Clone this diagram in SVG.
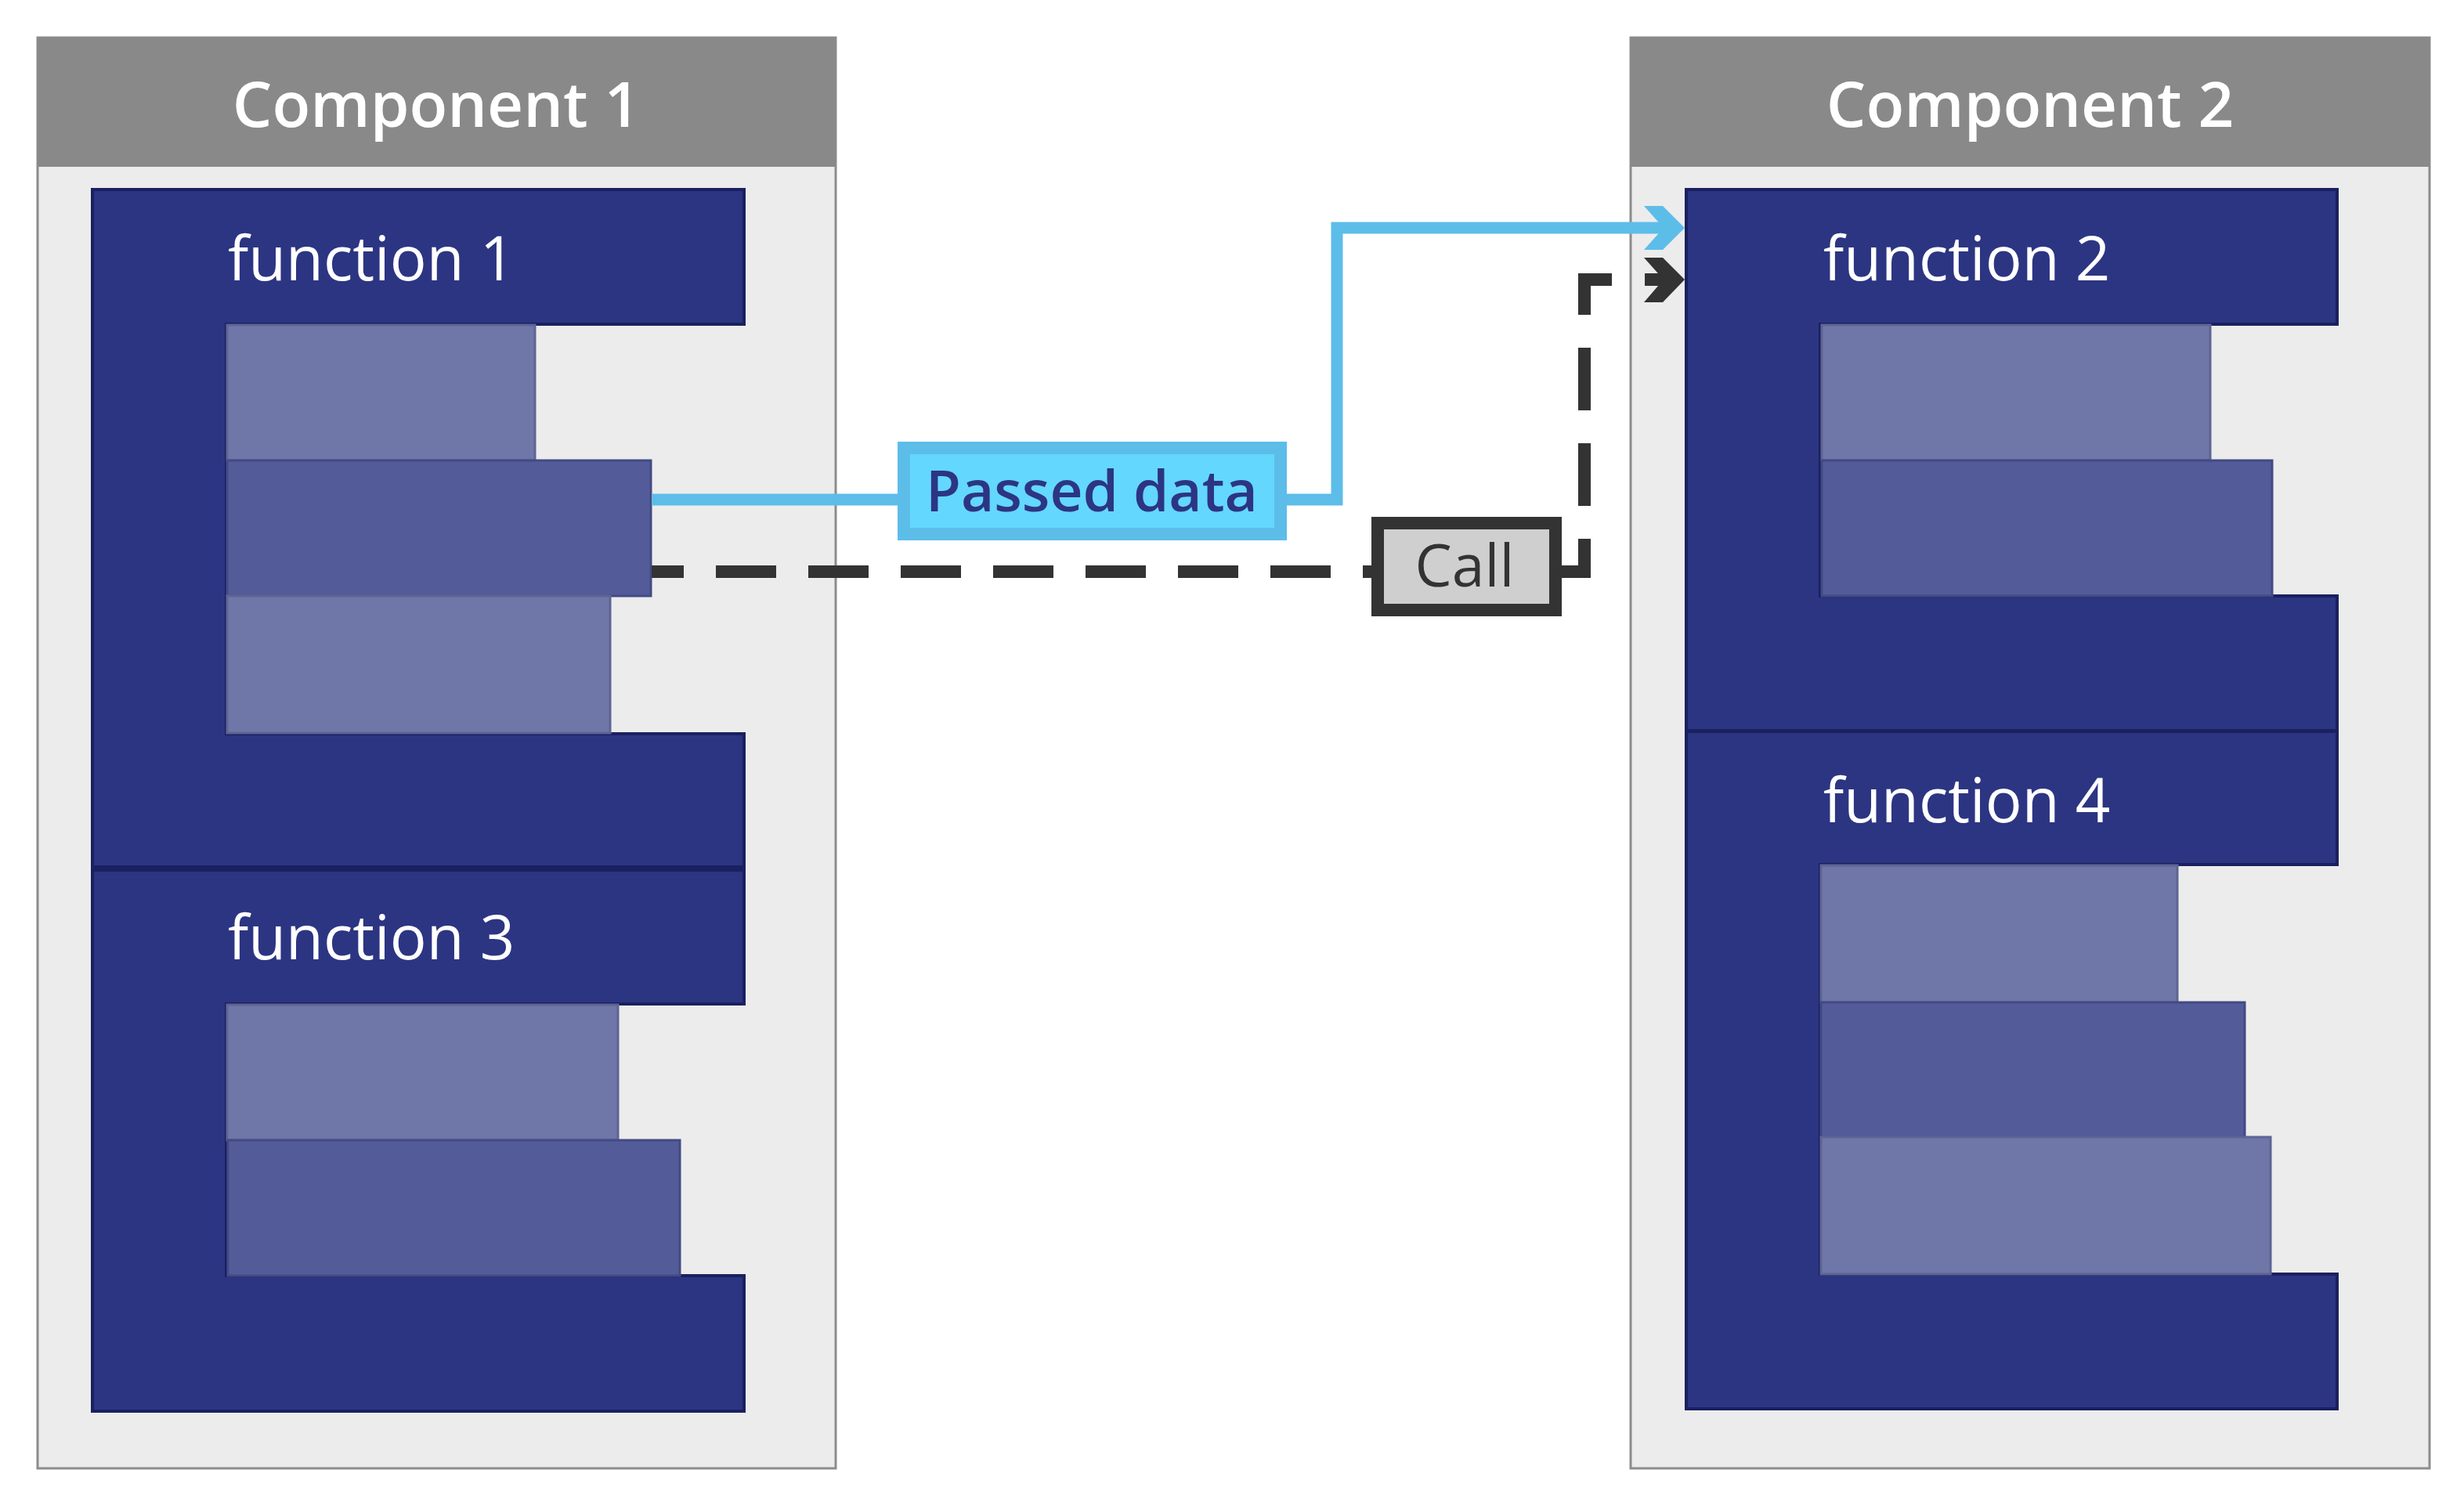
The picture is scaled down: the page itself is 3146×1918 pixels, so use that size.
<svg xmlns="http://www.w3.org/2000/svg" width="3146" height="1918" viewBox="0 0 3146 1918">
<style>
.comp{fill:#ececec;stroke:#8c8c8c;stroke-width:3}
.hdr{fill:#898989}
.htxt{font-family:"Open Sans","Liberation Sans",sans-serif;font-size:80px;font-weight:600;fill:#ffffff;text-anchor:middle}
.fn{fill:#2c3582;stroke:#1a2060;stroke-width:4}
.ftxt{font-family:"Open Sans","Liberation Sans",sans-serif;font-size:78px;fill:#ffffff}
.lt{fill:#6f76a8;stroke:#5e6594;stroke-width:3}
.md{fill:#535c99;stroke:#434a84;stroke-width:3}
</style>
<rect width="3146" height="1918" fill="#ffffff"/>
<g id="component1">
<rect class="comp" x="48" y="48" width="1019" height="1827"/>
<rect class="hdr" x="48" y="48" width="1019" height="165"/>
<text class="htxt" x="557" y="162">Component 1</text>
</g>
<g id="component2">
<rect class="comp" x="2082" y="48" width="1020" height="1827"/>
<rect class="hdr" x="2082" y="48" width="1020" height="165"/>
<text class="htxt" x="2592" y="162">Component 2</text>
</g>
<g id="function1">
<path class="fn" d="M118,242 H950 V414 H289 V937 H950 V1107 H118 Z"/>
<rect class="lt" x="290" y="415" width="393" height="173"/>
<rect class="md" x="290" y="588" width="541" height="173"/>
<rect class="lt" x="290" y="761" width="489" height="175"/>
<text class="ftxt" x="291" y="358">function 1</text>
</g>
<g id="function3">
<path class="fn" d="M118,1111 H950 V1282 H289 V1629 H950 V1802 H118 Z"/>
<rect class="lt" x="290" y="1283" width="499" height="173"/>
<rect class="md" x="291" y="1456" width="577" height="173"/>
<text class="ftxt" x="291" y="1225">function 3</text>
</g>
<g id="function2">
<path class="fn" d="M2153,242 H2984 V414 H2324 V761 H2984 V933 H2153 Z"/>
<rect class="lt" x="2326" y="415" width="496" height="173"/>
<rect class="md" x="2326" y="588" width="575" height="173"/>
<text class="ftxt" x="2328" y="358">function 2</text>
</g>
<g id="function4">
<path class="fn" d="M2153,934 H2984 V1104 H2324 V1627 H2984 V1799 H2153 Z"/>
<rect class="lt" x="2325" y="1105" width="455" height="175"/>
<rect class="md" x="2325" y="1280" width="541" height="172"/>
<rect class="lt" x="2325" y="1452" width="574" height="175"/>
<text class="ftxt" x="2328" y="1050">function 4</text>
</g>
<g id="connectors">
<path d="M832,638 H1707 V291 H2126" fill="none" stroke="#5dbde9" stroke-width="15"/>
<polygon points="2099,263 2123,263 2151,291 2123,319 2099,319 2124,291" fill="#5dbde9"/>
<path d="M832,730 H1752" fill="none" stroke="#333333" stroke-width="16" stroke-dasharray="77 41" stroke-dashoffset="36"/>
<path d="M1994,730 H2023 V357 H2126" fill="none" stroke="#333333" stroke-width="16" stroke-dasharray="80 42" stroke-dashoffset="9"/>
<polygon points="2099,329 2123,329 2151,357 2123,386 2099,386 2124,357" fill="#333333"/>
</g>
<g id="label-passed-data">
<rect x="1154" y="572" width="481" height="110" fill="#64d7fe" stroke="#5dbde9" stroke-width="16"/>
<text x="1394" y="653" font-family="'Open Sans','Liberation Sans',sans-serif" font-size="73" font-weight="600" fill="#2c3583" text-anchor="middle">Passed data</text>
</g>
<g id="label-call">
<rect x="1759" y="668" width="227" height="111" fill="#cfcfcf" stroke="#333333" stroke-width="16"/>
<text x="1870" y="749" font-family="'Open Sans','Liberation Sans',sans-serif" font-size="75" fill="#333333" text-anchor="middle">Call</text>
</g>
</svg>
